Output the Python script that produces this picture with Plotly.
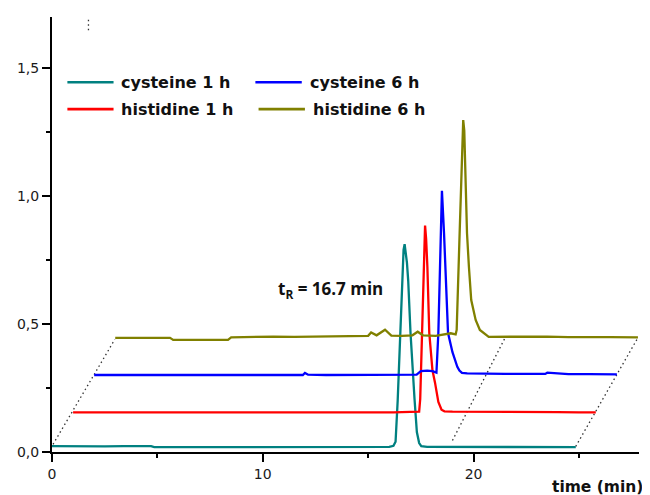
import plotly.graph_objects as go

# ---------------- data (raw chromatograms, before waterfall offset) ----------------
series_names = ["cysteine 1 h", "histidine 1 h", "cysteine 6 h", "histidine 6 h"]
series_colors = ["#008080", "#ff0000", "#0000ff", "#808000"]

# waterfall offsets (time shift in min, signal shift)
time_offset = [0.0, 1.0, 2.0, 3.0]
signal_offset = [0.0, 0.133, 0.278, 0.426]

cys1_time = [0.0, 0.8, 1.6, 2.5, 3.4, 4.2, 4.7, 4.85, 5.8, 6.9, 8.0, 9.1, 10.2, 11.3,
             12.4, 13.5, 14.6, 15.4, 16.0, 16.2, 16.3, 16.4, 16.52, 16.62, 16.68, 16.73,
             16.78, 16.84, 16.90, 17.01, 17.2, 17.31, 17.42, 17.52, 17.8, 18.6, 19.6,
             20.6, 21.6, 22.6, 23.6, 24.85]
cys1_signal = [0.023, 0.022, 0.023, 0.022, 0.023, 0.022, 0.023, 0.019, 0.019, 0.020,
               0.019, 0.019, 0.020, 0.019, 0.019, 0.020, 0.019, 0.019, 0.020, 0.024,
               0.040, 0.200, 0.469, 0.728, 0.790, 0.812, 0.785, 0.740, 0.670, 0.465,
               0.207, 0.078, 0.035, 0.023, 0.020, 0.020, 0.019, 0.019, 0.020, 0.019,
               0.019, 0.019]

his1_time = [0.0, 1.0, 2.1, 3.3, 4.4, 5.6, 6.8, 8.0, 9.2, 10.4, 11.6, 12.8, 14.0, 15.2,
             16.0, 16.3, 16.42, 16.47, 16.56, 16.64, 16.70, 16.75, 16.81, 16.90, 17.05,
             17.17, 17.33, 17.48, 17.62, 18.0, 19.0, 20.0, 21.0, 22.0, 23.0, 24.0, 24.8]
his1_signal = [0.022, 0.022, 0.021, 0.022, 0.022, 0.021, 0.022, 0.022, 0.021, 0.022,
               0.022, 0.021, 0.022, 0.022, 0.024, 0.026, 0.025, 0.074, 0.332, 0.591,
               0.752, 0.700, 0.591, 0.332, 0.187, 0.139, 0.063, 0.032, 0.026, 0.025,
               0.025, 0.024, 0.024, 0.023, 0.023, 0.022, 0.022]

cys6_time = [0.0, 1.0, 2.2, 3.4, 4.6, 5.8, 7.0, 8.2, 9.4, 9.9, 10.0, 10.15, 11.0, 12.2,
             13.4, 14.6, 15.3, 15.5, 15.8, 16.05, 16.17, 16.24, 16.33, 16.44, 16.50,
             16.60, 16.71, 16.79, 17.0, 17.12, 17.23, 17.33, 17.45, 17.7, 18.5, 19.5,
             20.5, 21.4, 21.5, 22.5, 23.5, 24.8]
cys6_signal = [0.023, 0.023, 0.022, 0.023, 0.023, 0.022, 0.023, 0.023, 0.022, 0.023,
               0.031, 0.024, 0.023, 0.023, 0.022, 0.023, 0.024, 0.038, 0.040, 0.038,
               0.035, 0.032, 0.187, 0.576, 0.743, 0.576, 0.386, 0.187, 0.112, 0.082,
               0.055, 0.040, 0.031, 0.029, 0.027, 0.027, 0.027, 0.027, 0.032, 0.026,
               0.026, 0.025]

his6_time = [0.0, 1.2, 2.6, 2.75, 4.0, 5.35, 5.5, 6.5, 7.5, 8.5, 9.5, 10.5, 11.5, 12.0,
             12.14, 12.4, 12.8, 13.1, 13.6, 14.1, 14.35, 14.6, 15.2, 15.92, 16.15, 16.2,
             16.34, 16.42, 16.47, 16.51, 16.56, 16.61, 16.69, 16.78, 16.89, 17.1, 17.3,
             17.72, 18.5, 19.5, 20.5, 21.5, 22.5, 23.5, 24.8]
his6_signal = [0.020, 0.021, 0.020, 0.012, 0.013, 0.012, 0.022, 0.024, 0.025, 0.024,
               0.025, 0.026, 0.025, 0.028, 0.041, 0.030, 0.052, 0.029, 0.028, 0.030,
               0.044, 0.030, 0.028, 0.038, 0.034, 0.051, 0.429, 0.688, 0.830, 0.871,
               0.830, 0.688, 0.429, 0.298, 0.168, 0.090, 0.051, 0.024, 0.025, 0.024,
               0.025, 0.023, 0.024, 0.023, 0.022]

series_time = [cys1_time, his1_time, cys6_time, his6_time]
series_signal = [cys1_signal, his1_signal, cys6_signal, his6_signal]

# dotted perspective guide lines (time, signal)
guide_time = [[0.05, 2.98], [19.0, 21.5], [24.85, 27.8], [1.73, 1.73]]
guide_signal = [[0.03, 0.44], [0.045, 0.447], [0.022, 0.447], [1.648, 1.70]]

x_ticks = [0, 10, 20]
x_tick_labels = ["0", "10", "20"]
x_minor_ticks = [5, 15, 25]
y_ticks = [0.0, 0.5, 1.0, 1.5]
y_tick_labels = ["0,0", "0,5", "1,0", "1,5"]
y_minor_ticks = [0.25, 0.75, 1.25]

retention_label = "t<sub>R</sub> = 16.7 min"
x_title = "time (min)"

# ---------------- figure ----------------
fig = go.Figure()

for gt, gs in zip(guide_time, guide_signal):
    fig.add_trace(go.Scatter(x=gt, y=gs, mode="lines", showlegend=False,
                             hoverinfo="skip", cliponaxis=False,
                             line=dict(color="#333333", width=1.3, dash="1.5px,3px")))

for name, color, t, s, dt, ds in zip(series_names, series_colors, series_time,
                                     series_signal, time_offset, signal_offset):
    fig.add_trace(go.Scatter(
        x=[v + dt for v in t], y=[v + ds for v in s], mode="lines", name=name,
        showlegend=False, line=dict(color=color, width=2.3)))

# manual legend (two columns, two rows) in data coordinates
legend_order = [0, 2, 1, 3]
legend_line_x = [[0.73, 2.92], [9.65, 11.85], [0.73, 2.92], [9.8, 12.0]]
legend_text_x = [3.2, 12.15, 3.2, 12.3]
legend_row_y = [1.445, 1.445, 1.34, 1.34]
for idx, lx, tx, ry in zip(legend_order, legend_line_x, legend_text_x, legend_row_y):
    fig.add_shape(type="line", x0=lx[0], x1=lx[1], y0=ry, y1=ry, xref="x", yref="y",
                  line=dict(color=series_colors[idx], width=2.6))
    fig.add_annotation(x=tx, y=ry, xref="x", yref="y", text=series_names[idx],
                       showarrow=False, xanchor="left", yanchor="middle",
                       font=dict(family="DejaVu Sans", size=16, color="#111111",
                                 weight="bold"))

fig.add_annotation(x=10.62, y=0.635, xref="x", yref="y", text=retention_label,
                   showarrow=False, xanchor="left", yanchor="middle",
                   font=dict(family="Open Sans", size=17, color="#111111", weight="bold"))

# axis title placed below the right end of the x axis (paper coordinates)
fig.add_annotation(x=1.010, y=-0.080, xref="paper", yref="paper", text=x_title,
                   showarrow=False, xanchor="right", yanchor="middle",
                   font=dict(family="DejaVu Sans", size=15.5, color="#111111",
                             weight="bold"))

axis_common = dict(showline=True, linecolor="#000000", linewidth=2, ticks="outside",
                   ticklen=8, tickwidth=2, tickcolor="#000000", showgrid=False,
                   zeroline=False,
                   tickfont=dict(family="DejaVu Sans", size=14, color="#1a1a1a"))

fig.update_xaxes(range=[0, 27.85], tickvals=x_ticks, ticktext=x_tick_labels,
                 minor=dict(tickvals=x_minor_ticks, ticklen=4, tickwidth=2,
                            ticks="outside", tickcolor="#000000"),
                 **axis_common)
fig.update_yaxes(range=[0, 1.70], tickvals=y_ticks, ticktext=y_tick_labels,
                 minor=dict(tickvals=y_minor_ticks, ticklen=4, tickwidth=2,
                            ticks="outside", tickcolor="#000000"),
                 **axis_common)

# the page body adds an 8 px offset, so margins are chosen to land the plot area
# at the same place as in the reference
fig.update_layout(width=650, height=495, margin=dict(l=42, r=19, t=9, b=51),
                  paper_bgcolor="white", plot_bgcolor="white", showlegend=False)

fig.write_html("out.html")
